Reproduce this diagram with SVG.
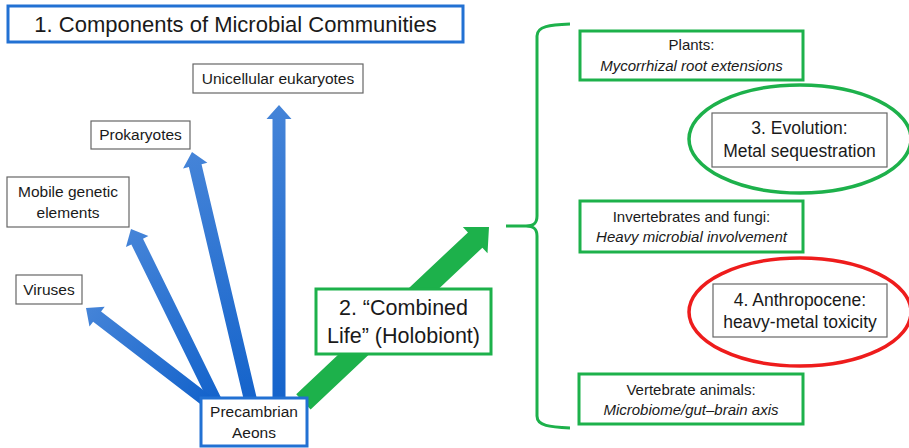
<svg xmlns="http://www.w3.org/2000/svg" width="909" height="448" viewBox="0 0 909 448">
  <defs>
    <linearGradient id="blueGrad" x1="0" y1="0" x2="0" y2="1">
      <stop offset="0" stop-color="#4584D8"/>
      <stop offset="1" stop-color="#1463CB"/>
    </linearGradient>
    <style>
      text { font-family: "Liberation Sans", Arial, sans-serif; fill: #1a1a1a; text-anchor: middle; }
      .blueBox { fill: #fff; stroke: #2271D3; stroke-width: 3; }
      .greyBox { fill: #fff; stroke: #666; stroke-width: 1.2; }
      .greenBox { fill: #fff; stroke: #1DB14B; stroke-width: 3; }
      .blueArrow { fill: url(#blueGrad); }
      .greenArrow { fill: #1DB14B; }
      .it { font-style: italic; }
    </style>
  </defs>

  <!-- connectors -->
  <g id="connectors">
    <polygon class="blueArrow" transform="translate(279,105)" points="0,0 12.5,14 6.5,14 6.5,300 -6.5,300 -6.5,14 -12.5,14"/>
    <polygon class="blueArrow" transform="translate(192,152) rotate(-13.27)" points="0,0 12.5,14 6.5,14 6.5,258 -6.5,258 -6.5,14 -12.5,14"/>
    <polygon class="blueArrow" transform="translate(131,229) rotate(-26.15)" points="0,0 12.5,14 6.5,14 6.5,194 -6.5,194 -6.5,14 -12.5,14"/>
    <polygon class="blueArrow" transform="translate(86,308) rotate(-52.43)" points="0,0 12.5,14 6.5,14 6.5,152 -6.5,152 -6.5,14 -12.5,14"/>
    <polygon class="greenArrow" transform="translate(489,227) rotate(46.7)" points="0,0 18,19 10.5,19 10.5,255 -10.5,255 -10.5,19 -18,19"/>
    <path d="M570,24 C550,25 537,26 537,36 L537,216 C537,224 533,226 526,226 L506,226 M526,226 C533,226 537,228 537,236 L537,416 C537,426 550,427 570,428" fill="none" stroke="#1DB14B" stroke-width="3"/>
  </g>

  <g id="title">
    <rect class="blueBox" x="8" y="6" width="455" height="36"/>
    <text x="235.5" y="31.5" font-size="22">1. Components of Microbial Communities</text>
  </g>

  <g id="unicellular">
    <rect class="greyBox" x="193" y="64" width="170" height="29"/>
    <text x="278" y="84" font-size="15.5">Unicellular eukaryotes</text>
  </g>

  <g id="prokaryotes">
    <rect class="greyBox" x="91" y="121" width="99" height="28"/>
    <text x="140.5" y="140" font-size="15.5">Prokaryotes</text>
  </g>

  <g id="mobile">
    <rect class="greyBox" x="7" y="177" width="122" height="50"/>
    <text x="68" y="197" font-size="15.5">Mobile genetic</text>
    <text x="68" y="218" font-size="15.5">elements</text>
  </g>

  <g id="viruses">
    <rect class="greyBox" x="16" y="275" width="66" height="29"/>
    <text x="49" y="295" font-size="15.5">Viruses</text>
  </g>

  <g id="precambrian">
    <rect class="blueBox" x="201" y="398" width="106" height="48"/>
    <text x="254" y="417" font-size="15.5">Precambrian</text>
    <text x="254" y="438" font-size="15.5">Aeons</text>
  </g>

  <g id="combined">
    <rect class="greenBox" x="316" y="289" width="175" height="65"/>
    <text x="403.5" y="315" font-size="21.5">2. “Combined</text>
    <text x="403.5" y="343" font-size="21.5">Life” (Holobiont)</text>
  </g>

  <g id="plants">
    <rect class="greenBox" x="580" y="31" width="223" height="49"/>
    <text x="691.5" y="50" font-size="15">Plants:</text>
    <text class="it" x="691.5" y="71" font-size="15">Mycorrhizal root extensions</text>
  </g>

  <g id="evolution">
    <ellipse cx="800" cy="139" rx="111" ry="54" fill="none" stroke="#1DB14B" stroke-width="3.5"/>
    <rect class="greyBox" x="712" y="113" width="175" height="54"/>
    <text x="799.5" y="134" font-size="17.5">3. Evolution:</text>
    <text x="799.5" y="157" font-size="17.5">Metal sequestration</text>
  </g>

  <g id="invertebrates">
    <rect class="greenBox" x="580" y="201" width="223" height="51"/>
    <text x="691.5" y="222" font-size="15">Invertebrates and fungi:</text>
    <text class="it" x="691.5" y="242" font-size="15">Heavy microbial involvement</text>
  </g>

  <g id="anthropocene">
    <ellipse cx="800" cy="312" rx="111" ry="54" fill="none" stroke="#EE1C1C" stroke-width="3.5"/>
    <rect class="greyBox" x="713" y="284" width="174" height="53"/>
    <text x="800" y="306" font-size="17.5">4. Anthropocene:</text>
    <text x="800" y="328" font-size="17.5">heavy-metal toxicity</text>
  </g>

  <g id="vertebrates">
    <rect class="greenBox" x="579" y="374" width="224" height="50"/>
    <text x="691" y="395" font-size="15">Vertebrate animals:</text>
    <text class="it" x="691" y="415" font-size="15">Microbiome/gut–brain axis</text>
  </g>
</svg>
